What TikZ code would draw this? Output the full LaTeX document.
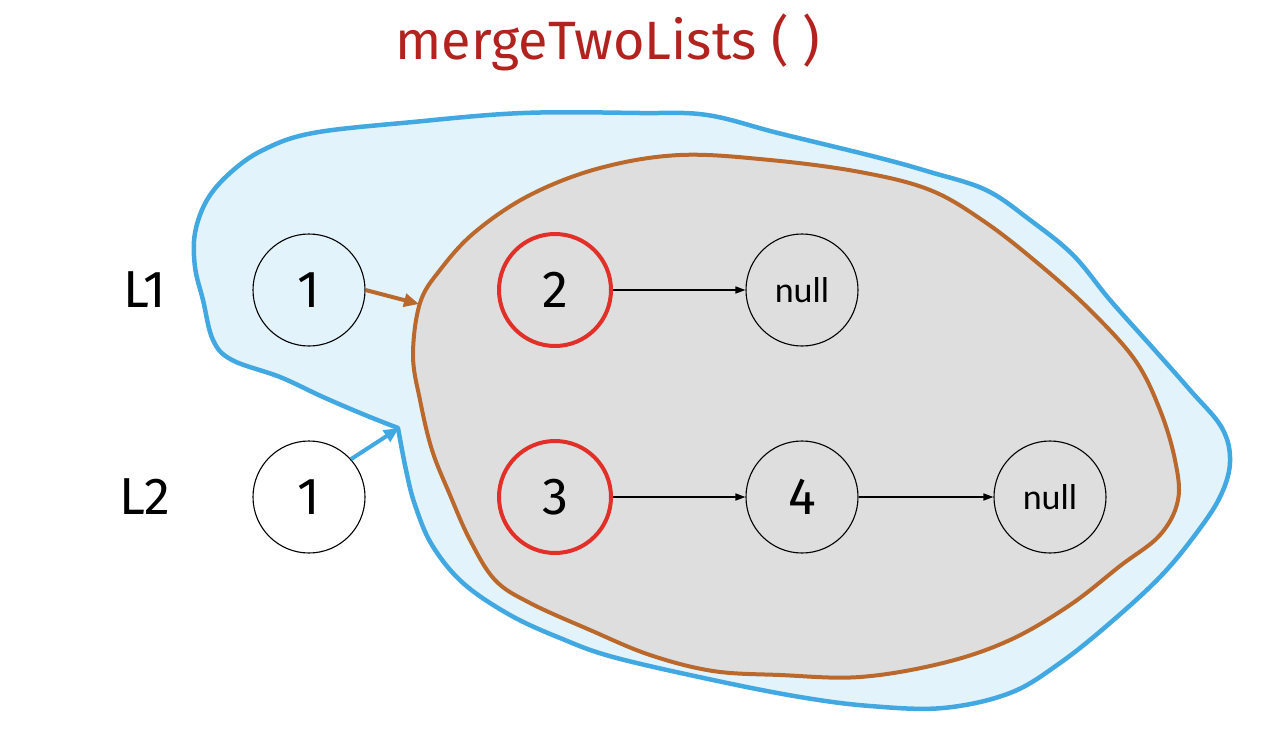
\documentclass[tikz,border=0pt]{standalone}
\usepackage{fontspec}
\setmainfont{Fira Sans}
\newfontfamily\nulltextfont{Carlito}
\usetikzlibrary{arrows.meta}
\definecolor{blueline}{RGB}{66,168,226}
\definecolor{bluefill}{RGB}{227,243,251}
\definecolor{brownline}{RGB}{186,104,44}
\definecolor{grayfill}{RGB}{221,222,221}
\definecolor{redline}{RGB}{226,48,40}
\definecolor{titlered}{RGB}{178,34,30}
\tikzset{
  listnode/.style={circle, draw=black, line width=1.1pt, minimum size=112pt, inner sep=0pt, font=\fontsize{52}{52}\selectfont},
  rednode/.style={listnode, draw=redline, line width=4pt},
  nullnode/.style={listnode, font=\nulltextfont\fontsize{36}{36}\selectfont},
  link/.style={line width=1.5pt, -{Triangle[length=10pt,width=7pt]}},
  lbl/.style={font=\fontsize{52}{52}\selectfont},
}
\begin{document}
\begin{tikzpicture}[x=1pt,y=-1pt]
\useasboundingbox (0,0) rectangle (1278,734);
% blue blob
\draw[blueline, fill=bluefill, line width=4.5pt, line join=round]
  plot[smooth, tension=0.6] coordinates {(398,428) (406,470) (415,505) (432,545) (463,583) (510,615) (560,638) (613,657) (713,680) (800,697) (870,706) (943,708) (1010,693) (1060,663) (1110,623) (1160,577) (1195,535) (1220,497) (1230,462) (1222,428) (1190,390) (1152,347) (1110,300) (1073,255) (1030,220) (986,190) (930,172) (876,157) (778,133) (707,115) (640,113) (523,113) (413,122) (313,133) (263,150) (230,173) (207,200) (195,233) (195,267) (203,300) (213,340) (232,360) (280,377) (323,397) (365,415) (398,428)} -- cycle;
% brown blob
\draw[brownline, fill=grayfill, line width=4pt]
  plot[smooth cycle, tension=0.6] coordinates {(420,303) (440,270) (475,232) (530,195) (600,168) (680,155) (770,160) (860,172) (930,190) (985,222) (1040,265) (1090,310) (1135,360) (1160,410) (1175,460) (1178,500) (1160,535) (1120,566) (1070,605) (1010,640) (943,663) (860,677) (780,675) (713,671) (650,655) (590,630) (530,603) (495,580) (470,540) (450,495) (432,450) (420,400) (413,355)};
\coordinate (btip) at (419,304);
\coordinate (bltip) at (399,428);
% title
\node[text=titlered, font=\fontsize{54}{54}\selectfont] (title) at (608,42) {mergeTwoLists ( )};
% labels
\node[lbl] (L1) at (145,290) {L1};
\node[lbl] (L2) at (145,497) {L2};
% nodes
\node[listnode] (a1) at (309,290) {1};
\node[rednode] (a2) at (555,290) {2};
\node[nullnode] (an) at (802,290) {null};
\node[listnode, fill=white] (b1) at (309,497) {1};
\node[rednode] (b3) at (555,497) {3};
\node[listnode] (b4) at (802,497) {4};
\node[nullnode] (bn) at (1050,497) {null};
% links
\draw[link] (a2) -- (an);
\draw[link] (b3) -- (b4);
\draw[link] (b4) -- (bn);
\draw[brownline, line width=4pt, -{Triangle[length=15pt,width=13pt]}] (a1.east) -- (btip);
\draw[blueline, line width=4pt, -{Triangle[length=15pt,width=13pt]}] (b1.42) -- (bltip);
\end{tikzpicture}
\end{document}
